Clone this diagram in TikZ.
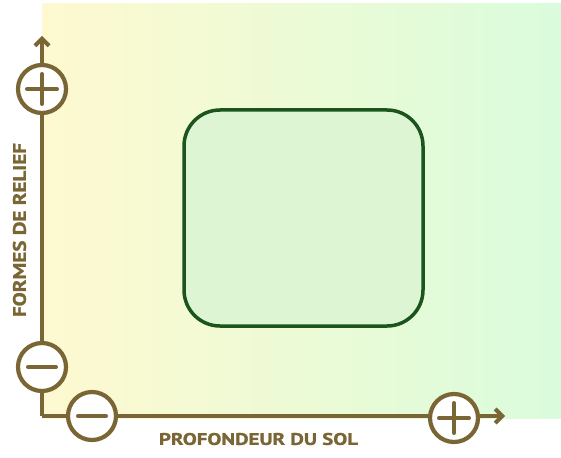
\documentclass[tikz,border=0pt]{standalone}
\usepackage{fontspec}
\setmainfont{PT Sans}
\newfontfamily\labelfont{PT Sans Bold}[FakeBold=1.2]
\usepackage{graphicx}
\usetikzlibrary{arrows.meta}
\definecolor{axisbrown}{RGB}{122,101,52}
\definecolor{bgyellow}{RGB}{254,249,208}
\definecolor{bggreen}{RGB}{218,252,220}
\definecolor{boxgreen}{RGB}{28,84,30}
\definecolor{boxfill}{RGB}{222,245,212}
\tikzset{
  axisline/.style={draw=axisbrown, line width=4pt},
  signcircle/.style={circle, draw=axisbrown, line width=4.2pt, fill=white, minimum size=48pt, inner sep=0pt},
  signbar/.style={draw=axisbrown, line width=4pt, line cap=round},
  axislabel/.style={text=axisbrown, inner sep=0pt, font=\labelfont},
}
\begin{document}
\begin{tikzpicture}[x=1pt,y=-1pt]
\useasboundingbox (0,0) rectangle (561,457);
% background gradient
\shade[left color=bgyellow, right color=bggreen] (42,4) rectangle (561,418);
% central rounded box
\draw[draw=boxgreen, line width=3.5pt, fill=boxfill, rounded corners=36pt] (184,110) rectangle (423,326);
% axes
\coordinate (orig) at (42,416);
\coordinate (ytip) at (42,36);
\coordinate (xtip) at (505,416);
\draw[axisline, -{Straight Barb[length=7pt,width=14pt,line width=4pt]}] (orig) -- (ytip);
\draw[axisline, -{Straight Barb[length=7pt,width=14pt,line width=4pt]}] (orig) -- (xtip);
% sign circles
\node[signcircle] (yplus) at (42,89) {};
\draw[signbar] ([xshift=-15pt]yplus.center) -- ([xshift=15pt]yplus.center);
\draw[signbar] ([yshift=-15pt]yplus.center) -- ([yshift=15pt]yplus.center);
\node[signcircle] (yminus) at (42,367) {};
\draw[signbar] ([xshift=-14pt]yminus.center) -- ([xshift=14pt]yminus.center);
\node[signcircle] (xminus) at (92,416) {};
\draw[signbar] ([xshift=-14pt]xminus.center) -- ([xshift=14pt]xminus.center);
\node[signcircle] (xplus) at (454,418) {};
\draw[signbar] ([xshift=-15pt]xplus.center) -- ([xshift=15pt]xplus.center);
\draw[signbar] ([yshift=-15pt]xplus.center) -- ([yshift=15pt]xplus.center);
% labels
\node[axislabel, rotate=90] (ylabel) at (19.5,230) {\resizebox{174pt}{13pt}{FORMES DE RELIEF}};
\node[axislabel] (xlabel) at (258.5,439) {\resizebox{199pt}{12pt}{PROFONDEUR DU SOL}};
\end{tikzpicture}
\end{document}
